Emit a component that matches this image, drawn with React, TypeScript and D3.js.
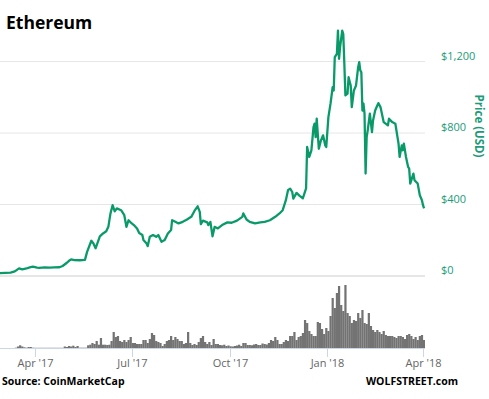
import React from "react";
import * as d3 from "d3";

const TITLE = "Ethereum";
const SOURCE = "Source: CoinMarketCap";
const CREDIT = "WOLFSTREET.com";
const Y_TITLE = "Price (USD)";

const priceDates = [
  "2017-02-27","2017-03-04","2017-03-09","2017-03-13","2017-03-17","2017-03-20","2017-03-24","2017-03-27","2017-03-30","2017-04-03",
  "2017-04-05","2017-04-10","2017-04-15","2017-04-19","2017-04-24","2017-04-27","2017-05-01","2017-05-03","2017-05-05","2017-05-08",
  "2017-05-13","2017-05-18","2017-05-20","2017-05-24","2017-05-26","2017-05-28","2017-06-01","2017-06-04","2017-06-07","2017-06-09",
  "2017-06-11","2017-06-13","2017-06-15","2017-06-17","2017-06-21","2017-06-24","2017-06-26","2017-06-28","2017-07-01","2017-07-03",
  "2017-07-06","2017-07-08","2017-07-11","2017-07-12","2017-07-15","2017-07-16","2017-07-18","2017-07-21","2017-07-24","2017-07-26",
  "2017-07-29","2017-08-01","2017-08-04","2017-08-07","2017-08-08","2017-08-11","2017-08-14","2017-08-18","2017-08-22","2017-08-26",
  "2017-08-29","2017-09-01","2017-09-03","2017-09-04","2017-09-06","2017-09-10","2017-09-11","2017-09-13","2017-09-15","2017-09-17",
  "2017-09-20","2017-09-24","2017-09-29","2017-10-03","2017-10-08","2017-10-13","2017-10-14","2017-10-17","2017-10-20","2017-10-25",
  "2017-10-30","2017-11-03","2017-11-08","2017-11-13","2017-11-17","2017-11-20","2017-11-23","2017-11-25","2017-11-27","2017-11-29",
  "2017-11-30","2017-12-03","2017-12-06","2017-12-09","2017-12-12","2017-12-13","2017-12-15","2017-12-17","2017-12-19","2017-12-20",
  "2017-12-21","2017-12-22","2017-12-24","2017-12-26","2017-12-28","2017-12-30","2017-12-31","2018-01-02","2018-01-04","2018-01-06",
  "2018-01-07","2018-01-08","2018-01-10","2018-01-11","2018-01-12","2018-01-13","2018-01-15","2018-01-16","2018-01-17","2018-01-18",
  "2018-01-20","2018-01-21","2018-01-23","2018-01-24","2018-01-26","2018-01-28","2018-01-30","2018-01-31","2018-02-01","2018-02-02",
  "2018-02-03","2018-02-04","2018-02-05","2018-02-06","2018-02-07","2018-02-08","2018-02-10","2018-02-12","2018-02-13","2018-02-15",
  "2018-02-17","2018-02-18","2018-02-20","2018-02-22","2018-02-23","2018-02-27","2018-02-28","2018-03-03","2018-03-06","2018-03-08",
  "2018-03-09","2018-03-10","2018-03-12","2018-03-13","2018-03-14","2018-03-16","2018-03-18","2018-03-19","2018-03-20","2018-03-23",
  "2018-03-24","2018-03-27","2018-03-29","2018-03-31","2018-04-01","2018-04-02"
];
const priceValues = [
  16,18,19,26,43,37,42,48,52,47,
  45,48,47,48,49,56,74,85,93,89,
  88,90,135,197,182,155,222,238,250,275,
  350,396,362,378,368,340,275,312,294,285,
  266,240,229,201,182,167,219,229,219,229,
  191,201,238,257,312,303,294,303,316,331,
  364,390,359,290,310,300,285,303,222,275,
  266,285,300,298,310,331,350,316,303,294,
  300,303,312,331,350,368,424,480,489,470,
  433,465,448,435,490,722,666,703,833,852,
  777,880,712,759,787,731,722,889,964,1056,
  1038,1224,1243,1373,1215,1280,1373,1354,1187,1010,
  1020,1112,1066,945,1038,1066,1168,1196,1150,1140,
  926,964,908,573,777,815,908,805,870,926,
  954,967,945,889,861,843,880,861,852,777,
  740,666,731,703,740,666,610,601,517,573,
  536,517,452,424,396,378
];

// Volume ($B), one bar per two days starting at volumeStart
const volumeStart = "2017-02-27";
const volumeValues = [
  0,0,0,0,0,0,0,0.03,0.15,0.27,
  0.15,0.07,0.03,0.1,0.1,0.03,0.02,0.02,0.02,0.02,
  0.02,0.02,0.02,0.02,0.02,0.02,0.02,0.02,0.02,0.02,
  0.15,0.1,0.2,0.15,0.23,0.1,0.2,0.03,0.03,0.03,
  0.03,0.27,0.33,0.5,0.4,0.7,0.33,1.0,0.33,0.33,
  0.3,0.33,0.7,1.6,1.1,1.2,0.7,0.6,0.8,0.6,
  0.8,1.1,0.5,0.5,0.4,0.4,0.4,0.8,0.8,0.5,
  0.9,1.5,1.3,0.7,0.6,0.5,0.2,0.4,0.7,0.8,
  1.2,0.8,1.1,0.9,0.7,0.7,0.4,0.5,1.6,0.5,
  0.3,0.4,0.3,0.6,1.0,1.2,0.6,0.4,0.6,0.3,
  0.9,0.4,0.4,0.3,0.27,0.33,0.2,0.25,0.17,0.15,
  0.2,0.25,0.33,0.2,0.5,0.5,0.3,0.3,0.27,0.35,
  0.4,0.3,0.3,0.45,0.4,0.35,0.5,0.8,0.7,1.1,
  0.8,0.4,0.4,0.6,0.8,0.7,1.2,1.2,1.6,0.8,
  1.1,1.2,1.5,2.8,2.5,1.7,1.4,1.2,1.2,2.6,
  2.5,1.9,1.4,2.0,1.7,3.2,5.0,4.0,5.5,6.2,
  4.3,3.7,6.3,3.5,3.2,2.5,2.8,2.7,3.5,3.0,
  3.8,2.5,2.4,3.5,2.2,1.8,1.6,1.8,1.6,1.4,
  1.7,1.3,1.2,1.2,1.2,1.1,1.0,1.2,1.2,1.1,
  0.9,1.3,1.4,1.2,0.9,1.1,0.8,1.2,1.3,0.8,
  0.7
];

const yTicks = [0, 400, 800, 1200];
const xTickDates = ["2017-04-01", "2017-07-01", "2017-10-01", "2018-01-01", "2018-04-01"];
const xTickLabels = ["Apr '17", "Jul '17", "Oct '17", "Jan '18", "Apr '18"];

const parse = d3.utcParse("%Y-%m-%d");
const GREEN = "#0a9a6a";
const LABEL_GREEN = "#1a9c78";

export default function App() {
  const plotLeft = 0;
  const plotRight = 425;

  const x = d3
    .scaleUtc()
    .domain([parse("2017-04-01")!, parse("2018-04-01")!])
    .range([35, 423]);
  const y = d3.scaleLinear().domain([0, 1200]).range([276, 61.5]);
  const yVol = d3.scaleLinear().domain([0, 6.6]).range([348, 282]);

  const pts = priceDates.map((d, i) => ({ date: parse(d)!, v: priceValues[i] }));
  const line = d3
    .line<{ date: Date; v: number }>()
    .x((d) => x(d.date))
    .y((d) => y(d.v))
    .curve(d3.curveLinear);

  const vStart = parse(volumeStart)!;
  const vols = volumeValues.map((v, i) => ({ date: d3.utcDay.offset(vStart, 2 * i), v }));
  const barW = x(d3.utcDay.offset(vStart, 2)) - x(vStart);

  const font = "'Open Sans', 'Noto Sans', sans-serif";

  return (
    <svg
      width={489}
      height={399}
      style={{ position: "absolute", left: 0, top: 0, display: "block", background: "#fff" }}
      fontFamily={font}
    >
      <defs>
        <clipPath id="plotclip">
          <rect x={plotLeft} y={0} width={plotRight - plotLeft} height={399} />
        </clipPath>
      </defs>
      <rect x={0} y={0} width={489} height={399} fill="#fff" />

      {/* gridlines */}
      {yTicks.map((t) => (
        <line
          key={"g" + t}
          x1={plotLeft}
          x2={plotRight}
          y1={y(t)}
          y2={y(t)}
          stroke="#e6e6e6"
          strokeWidth={t === 0 ? 2 : 1}
        />
      ))}

      {/* y tick labels */}
      {yTicks.map((t) => (
        <text key={"yl" + t} x={441} y={y(t) - 2} fontSize={11} fill={LABEL_GREEN}>
          {"$" + d3.format(",")(t)}
        </text>
      ))}

      <text
        transform={`translate(475, 126) rotate(90)`}
        textAnchor="middle"
        fontSize={11.5}
        fontWeight={700}
        fill={LABEL_GREEN}
      >
        {Y_TITLE}
      </text>

      {/* volume bars */}
      <g clipPath="url(#plotclip)">
        {vols.map((d, i) => (
          <rect
            key={"v" + i}
            x={x(d.date)}
            y={yVol(d.v)}
            width={barW + 0.1}
            height={348 - yVol(d.v)}
            fill="#737373"
          />
        ))}
      </g>

      {/* price line */}
      <g clipPath="url(#plotclip)">
        <path d={line(pts) || ""} fill="none" stroke={GREEN} strokeWidth={2.3} strokeLinejoin="round" />
      </g>

      {/* x axis */}
      <line x1={plotLeft} x2={plotRight} y1={348.5} y2={348.5} stroke="#ccd6eb" strokeWidth={1} />
      {xTickDates.map((d, i) => {
        const xx = Math.round(x(parse(d)!)) + 0.5;
        return (
          <g key={"xt" + i}>
            <line x1={xx} x2={xx} y1={348.5} y2={357} stroke="#ccd6eb" strokeWidth={1} />
            <text x={xx} y={367} textAnchor="middle" fontSize={11} fill="#666666">
              {xTickLabels[i]}
            </text>
          </g>
        );
      })}

      {/* title and credits */}
      <text x={6} y={29} fontSize={17.5} fontWeight={700} fill="#000">
        {TITLE}
      </text>
      <text x={2} y={385} fontSize={10.5} fontWeight={700} fill="#000">
        {SOURCE}
      </text>
      <text x={458} y={385} textAnchor="end" fontSize={10.5} fontWeight={700} fill="#000">
        {CREDIT}
      </text>
    </svg>
  );
}
